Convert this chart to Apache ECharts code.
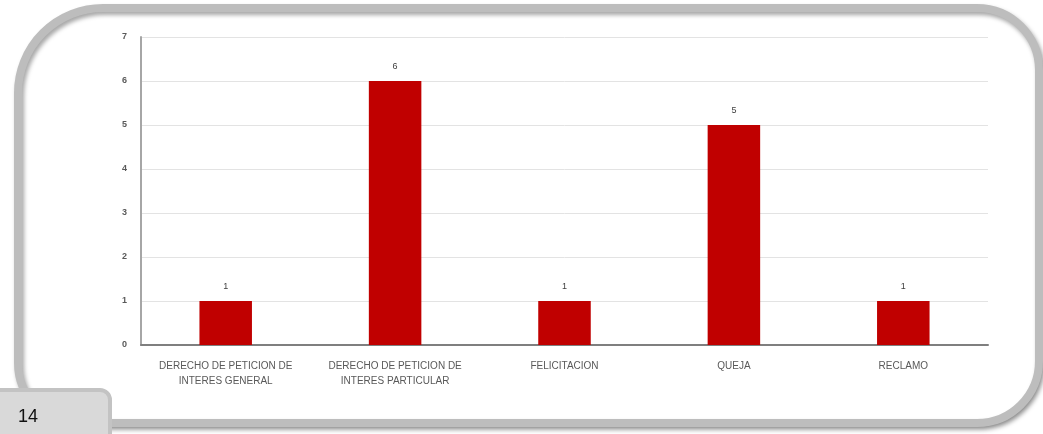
<!DOCTYPE html>
<html>
<head>
<meta charset="utf-8">
<script src="https://cdn.jsdelivr.net/npm/echarts@6/dist/echarts.min.js"></script>
<style>
html,body{margin:0;padding:0;background:#fff;}
#c{width:1043px;height:434px;}
</style>
</head>
<body>
<div id="c"></div>
<script>
const categories = [
  "DERECHO DE PETICION DE\nINTERES GENERAL",
  "DERECHO DE PETICION DE\nINTERES PARTICULAR",
  "FELICITACION",
  "QUEJA",
  "RECLAMO"
];
const values = [1, 6, 1, 5, 1];
const yTicks = [0, 1, 2, 3, 4, 5, 6, 7];
const pageNumber = "14";

const font = "'Liberation Sans Narrow', 'Liberation Sans', sans-serif";
const chart = echarts.init(document.getElementById('c'));
chart.setOption({
  animation: false,
  backgroundColor: '#ffffff',
  graphic: [
    {
      type: 'rect', z: -10,
      shape: { x: 18, y: 8, width: 1021, height: 415, r: [85, 62, 62, 60] },
      style: { fill: '#ffffff', stroke: '#bdbdbd', lineWidth: 8,
        shadowColor: 'rgba(0,0,0,0.35)', shadowBlur: 4, shadowOffsetX: 2, shadowOffsetY: 3 }
    },
    {
      type: 'rect', z: 10,
      shape: { x: -10, y: 390, width: 120, height: 60, r: [0, 10, 0, 0] },
      style: { fill: '#d9d9d9', stroke: '#c3c3c3', lineWidth: 4 }
    },
    {
      type: 'text', z: 11, left: 18, top: 408,
      style: { text: pageNumber, font: "18px 'Liberation Sans', sans-serif", fill: '#111111' }
    }
  ],
  grid: { left: 141, right: 55, top: 37, bottom: 89, containLabel: false },
  xAxis: {
    type: 'category',
    data: categories,
    axisLine: { show: true, lineStyle: { color: '#7f7f7f', width: 2 } },
    axisTick: { show: false },
    axisLabel: { color: '#595959', fontSize: 10, fontFamily: font, margin: 14, lineHeight: 15, interval: 0 }
  },
  yAxis: {
    type: 'value',
    min: yTicks[0], max: yTicks[yTicks.length - 1], interval: 1,
    axisLine: { show: true, lineStyle: { color: '#a6a6a6', width: 2 } },
    axisTick: { show: false },
    axisLabel: { color: '#595959', fontSize: 9, fontFamily: font, fontWeight: 'bold', margin: 14 },
    splitLine: { lineStyle: { color: '#e3e3e3', width: 1 } }
  },
  series: [{
    type: 'bar',
    data: values,
    barWidth: '31%',
    itemStyle: { color: '#c00000' },
    label: { show: true, position: 'top', color: '#404040', fontSize: 9, fontFamily: font, distance: 10 }
  }]
});
</script>
</body>
</html>
